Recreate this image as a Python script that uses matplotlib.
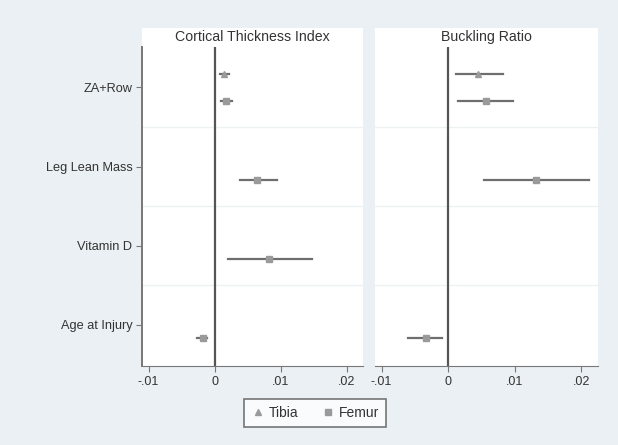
import numpy as np
import matplotlib
matplotlib.use("Agg")
import matplotlib.pyplot as plt
from matplotlib.patches import Rectangle
from matplotlib.lines import Line2D

plt.rcParams['font.family'] = ['Liberation Sans', 'DejaVu Sans']

categories = ["ZA+Row", "Leg Lean Mass", "Vitamin D", "Age at Injury"]
panels = ["Cortical Thickness Index", "Buckling Ratio"]

# Cortical Thickness Index: (category, estimate, lo, hi)
cti_tibia = [("ZA+Row", 0.0015, 0.0008, 0.0022)]
cti_femur = [("ZA+Row", 0.0017, 0.0010, 0.0027),
             ("Leg Lean Mass", 0.0065, 0.0038, 0.0095),
             ("Vitamin D", 0.0083, 0.0020, 0.0147),
             ("Age at Injury", -0.0018, -0.0026, -0.0011)]

# Buckling Ratio
br_tibia = [("ZA+Row", 0.0045, 0.0011, 0.0083)]
br_femur = [("ZA+Row", 0.0056, 0.0014, 0.0098),
            ("Leg Lean Mass", 0.0132, 0.0053, 0.0212),
            ("Age at Injury", -0.0033, -0.0060, -0.0009)]

xticks = [-0.01, 0, 0.01, 0.02]
xticklabels = ["-.01", "0", ".01", ".02"]

BG = "#eaf0f3"
TXT = "#333333"
MARK = "#9a9a9a"
BAR = "#6e6e6e"

fig = plt.figure(figsize=(6.18, 4.45), dpi=100, facecolor=BG)
W, H = 618.0, 445.0

boxes = [(142, 363), (375, 598)]
top_px, bot_px, strip_px = 47, 366, 28
data = [(cti_tibia, cti_femur), (br_tibia, br_femur)]
ypos = {c: i for i, c in enumerate(categories)}
off = 0.17

for k, (x0, x1) in enumerate(boxes):
    # white title strip
    fig.add_artist(Rectangle((x0 / W, 1 - top_px / H), (x1 - x0) / W, (top_px - strip_px) / H,
                             transform=fig.transFigure, facecolor="white", edgecolor="none", zorder=0))
    ax = fig.add_axes([x0 / W, 1 - bot_px / H, (x1 - x0) / W, (bot_px - top_px) / H])
    ax.set_facecolor("white")
    fig.text((x0 + x1) / 2 / W, 1 - 37 / H, panels[k], ha="center", va="center",
             fontsize=10.2, color=TXT)

    for sep in [0.5, 1.5, 2.5]:
        ax.axhline(sep, color="#eef1f3", lw=1, zorder=1)
    ax.axvline(0, color="#555555", lw=1.6, zorder=2)

    tib, fem = data[k]
    for (c, est, lo, hi) in tib:
        y = ypos[c] - off
        ax.plot([lo, hi], [y, y], color=BAR, lw=1.6, zorder=3)
        ax.plot(est, y, marker="^", ms=4.5, color=MARK, mec=MARK, zorder=4)
    for (c, est, lo, hi) in fem:
        y = ypos[c] + off
        ax.plot([lo, hi], [y, y], color=BAR, lw=1.6, zorder=3)
        ax.plot(est, y, marker="s", ms=4.5, color=MARK, mec=MARK, zorder=4)

    ax.set_xlim(-0.0110, 0.0225)
    ax.set_ylim(3.52, -0.51)
    ax.set_xticks(xticks)
    ax.set_xticklabels(xticklabels, fontsize=9, color=TXT)
    ax.tick_params(axis="x", direction="out", length=4, color="#777777", pad=3)

    for s in ["top", "right"]:
        ax.spines[s].set_visible(False)
    ax.spines["bottom"].set_color("#777777")
    if k == 0:
        ax.set_yticks(range(len(categories)))
        ax.set_yticklabels(categories, fontsize=9.2, color=TXT)
        ax.tick_params(axis="y", direction="out", length=4, color="#777777", pad=3)
        ax.spines["left"].set_color("#777777")
        ax.spines["left"].set_linewidth(1.4)
    else:
        ax.set_yticks([])
        ax.spines["left"].set_visible(False)

handles = [Line2D([], [], marker="^", ls="none", color=MARK, ms=5, label="Tibia"),
           Line2D([], [], marker="s", ls="none", color=MARK, ms=5, label="Femur")]
leg = fig.legend(handles=handles, loc="center", bbox_to_anchor=(315 / W, 1 - 413 / H),
                 ncol=2, frameon=True, fancybox=False, fontsize=10, handletextpad=0.3,
                 columnspacing=1.6, borderpad=0.5, handlelength=1.0)
leg.get_frame().set_edgecolor("#555555")
leg.get_frame().set_linewidth(1.2)
for t in leg.get_texts():
    t.set_color(TXT)

plt.savefig("out.png", dpi=100, facecolor=BG)
plt.close()
